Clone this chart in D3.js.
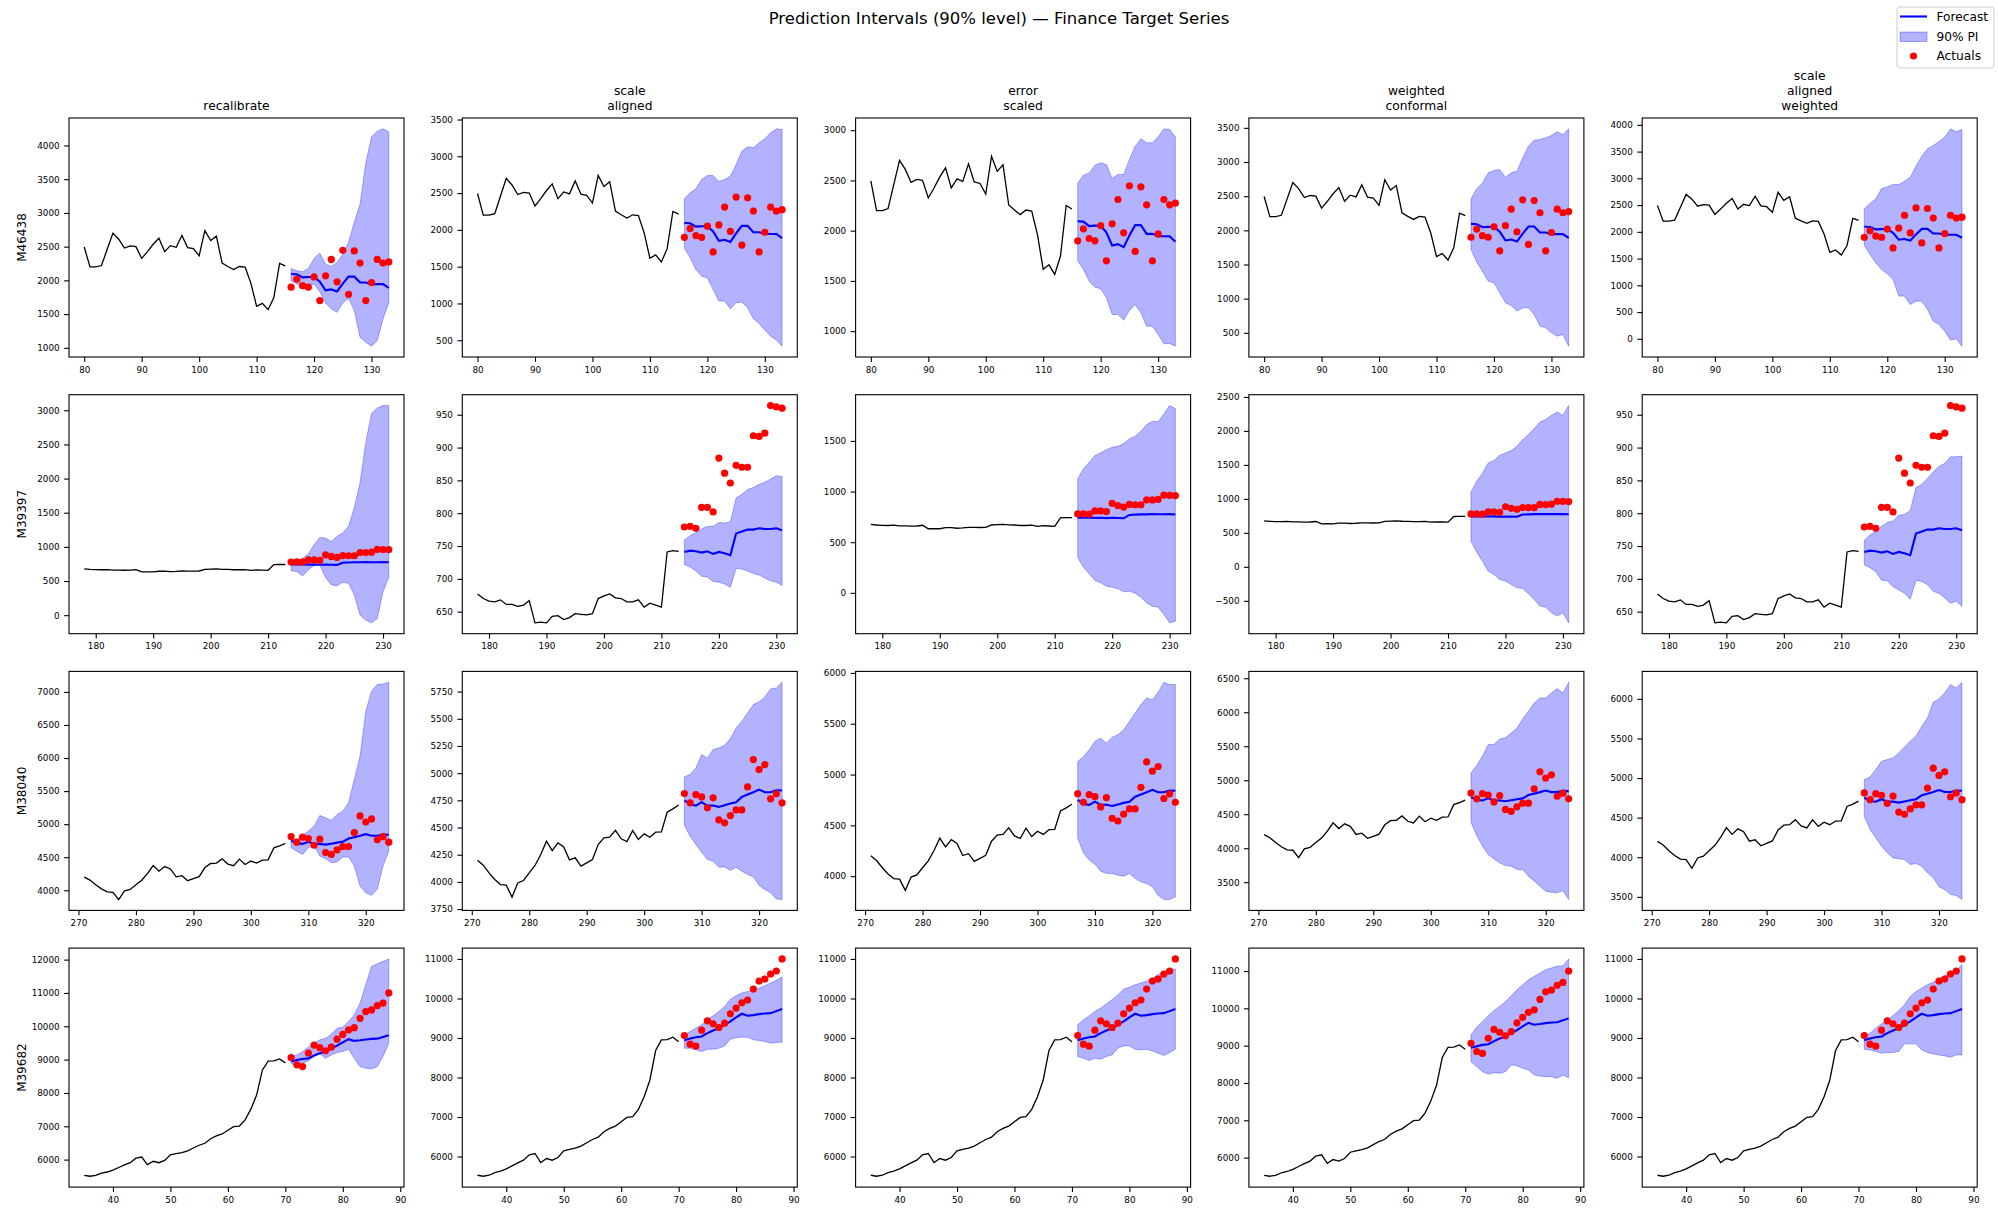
<!DOCTYPE html>
<html lang="en">
<head>
  <meta charset="UTF-8">
  <title>Prediction Intervals (90% level) — Finance Target Series</title>
  <script src="https://d3js.org/d3.v7.min.js"></script>
  <style>
    body { margin: 0; background: #fff; }
    svg { display: block; font-family: 'DejaVu Sans', sans-serif; }
    .tick text { font-size: 8.8px; fill: #000; }
    .tick line { stroke: #000; stroke-width: 1.1px; }
  </style>
</head>
<body>
  <svg id="chart" width="1998" height="1217"></svg>
  <script>
    const seriesIds = ["M46438", "M39397", "M38040", "M39682"];
    const methodTitles = ["recalibrate", "scale\naligned", "error\nscaled", "weighted\nconformal", "scale\naligned\nweighted"];
    const histStart = [80, 178, 271, 35];

    // M46438
    const hist_M46438 = [2495, 2200, 2200, 2220, 2460, 2700, 2610, 2480, 2510, 2500, 2325, 2425, 2535, 2625, 2425, 2515, 2490, 2665, 2485, 2470, 2365, 2740, 2590, 2655, 2255, 2205, 2160, 2205, 2195, 1960, 1615, 1660, 1565, 1745, 2250, 2215];
    const fc_M46438 = [2094, 2090, 2045, 2050, 2050, 1980, 1852, 1866, 1836, 1952, 2055, 2055, 1968, 1968, 1945, 1945, 1945, 1889];
    const act_M46438 = [1899, 2018, 1922, 1899, 2051, 1700, 2068, 2310, 1979, 2446, 1793, 2436, 2257, 1700, 1968, 2310, 2257, 2274];
    const lo_M46438 = [
      [1995, 1946, 1897, 1921, 1946, 1833, 1665, 1576, 1527, 1665, 1734, 1552, 1158, 1084, 1025, 1108, 1429, 1665],
      [1756, 1620, 1462, 1371, 1349, 1190, 1032, 1032, 928, 1009, 1018, 941, 792, 728, 638, 556, 502, 420],
      [1700, 1614, 1497, 1438, 1421, 1332, 1166, 1166, 1109, 1206, 1265, 1182, 1050, 1050, 967, 874, 877, 851],
      [1720, 1534, 1402, 1256, 1232, 1085, 939, 900, 817, 866, 866, 768, 598, 573, 500, 451, 475, 305],
      [1751, 1576, 1421, 1296, 1215, 1109, 798, 798, 642, 704, 704, 548, 330, 268, 143, -25, 0, -137]
    ];
    const hi_M46438 = [
      [2177, 2143, 2128, 2177, 2325, 2404, 2241, 2207, 2266, 2389, 2562, 2867, 3128, 3744, 4128, 4212, 4246, 4202],
      [2422, 2504, 2558, 2685, 2739, 2739, 2658, 2685, 2730, 2889, 3070, 3129, 3115, 3183, 3237, 3319, 3373, 3364],
      [2473, 2552, 2575, 2652, 2675, 2658, 2519, 2559, 2559, 2708, 2841, 2914, 2874, 2874, 2934, 3013, 3007, 2934],
      [2461, 2607, 2695, 2841, 2876, 2890, 2778, 2841, 2866, 3061, 3232, 3320, 3329, 3354, 3388, 3441, 3402, 3485],
      [2430, 2530, 2617, 2804, 2841, 2885, 2885, 2947, 3022, 3227, 3414, 3551, 3614, 3688, 3769, 3925, 3869, 3913]
    ];

    // M39397
    const hist_M39397 = [677, 670, 666, 665, 668, 661, 661, 658, 660, 667, 633, 634, 633, 643, 644, 638, 641, 647, 646, 645, 647, 670, 674, 677, 671, 670, 665, 665, 668, 657, 663, 660, 657, 741, 743, 742];
    const fc_M39397 = [741, 743, 742, 740, 742, 738, 741, 739, 736, 769, 772, 775, 775, 777, 776, 776, 777, 774];
    const act_M39397 = [779, 780, 777, 809, 809, 802, 884, 861, 846, 873, 870, 870, 918, 917, 922, 964, 962, 960];
    const lo_M39397 = [
      [649, 639, 575, 663, 730, 735, 550, 442, 432, 481, 467, 295, 0, -73, -112, -49, 344, 550],
      [722, 718, 712, 704, 703, 696, 695, 692, 687, 716, 715, 712, 708, 706, 701, 697, 695, 690],
      [352, 253, 188, 122, 99, 66, 56, 40, 10, 16, -3, -43, -99, -132, -141, -214, -296, -280],
      [377, 216, 83, -64, -113, -186, -211, -260, -309, -319, -397, -480, -578, -593, -676, -725, -676, -824],
      [721, 717, 711, 698, 697, 688, 683, 678, 669, 698, 696, 691, 681, 678, 671, 663, 666, 658]
    ];
    const hi_M39397 = [
      [796, 796, 835, 894, 1031, 1139, 1130, 1080, 1154, 1203, 1301, 1571, 1940, 2529, 2956, 3034, 3069, 3069],
      [759, 766, 770, 776, 780, 780, 786, 785, 787, 823, 829, 836, 839, 844, 847, 852, 857, 856],
      [1125, 1224, 1289, 1355, 1382, 1414, 1437, 1447, 1474, 1520, 1546, 1595, 1661, 1694, 1688, 1766, 1849, 1819],
      [1103, 1260, 1382, 1529, 1564, 1642, 1676, 1711, 1775, 1873, 1946, 2034, 2132, 2167, 2230, 2279, 2230, 2373],
      [759, 767, 772, 780, 786, 788, 797, 798, 804, 839, 844, 853, 863, 871, 876, 886, 886, 887]
    ];

    // M38040
    const hist_M38040 = [4200, 4154, 4083, 4022, 3976, 3970, 3860, 3991, 4013, 4083, 4151, 4252, 4374, 4289, 4359, 4322, 4203, 4221, 4145, 4175, 4206, 4344, 4405, 4411, 4475, 4396, 4371, 4472, 4390, 4442, 4411, 4457, 4460, 4641, 4672, 4708];
    const fc_M38040 = [4751, 4711, 4702, 4733, 4702, 4702, 4690, 4705, 4721, 4733, 4782, 4803, 4825, 4849, 4825, 4825, 4843, 4840];
    const act_M38040 = [4812, 4727, 4803, 4782, 4681, 4773, 4570, 4543, 4610, 4662, 4662, 4874, 5125, 5033, 5079, 4764, 4810, 4727];
    const lo_M38040 = [
      [4643, 4592, 4543, 4643, 4678, 4517, 4477, 4417, 4427, 4502, 4507, 4366, 4064, 3964, 3923, 4014, 4366, 4593],
      [4521, 4420, 4344, 4273, 4206, 4191, 4135, 4138, 4105, 4135, 4099, 4068, 4047, 3967, 3930, 3900, 3844, 3838],
      [4372, 4230, 4158, 4118, 4049, 4026, 4026, 4010, 4000, 4026, 3977, 3944, 3928, 3895, 3812, 3770, 3770, 3796],
      [4382, 4186, 4029, 3907, 3843, 3784, 3745, 3735, 3686, 3686, 3588, 3515, 3441, 3368, 3353, 3343, 3377, 3245],
      [4518, 4350, 4245, 4140, 4056, 3992, 3980, 3971, 3908, 3921, 3887, 3803, 3740, 3626, 3593, 3529, 3517, 3466]
    ];
    const hi_M38040 = [
      [4779, 4769, 4830, 4895, 4970, 5131, 5096, 5056, 5146, 5197, 5323, 5675, 6027, 6708, 7010, 7111, 7121, 7146],
      [4966, 4987, 5048, 5171, 5140, 5217, 5232, 5257, 5318, 5416, 5477, 5554, 5631, 5655, 5701, 5775, 5784, 5836],
      [5128, 5178, 5243, 5326, 5359, 5309, 5368, 5391, 5441, 5523, 5605, 5688, 5753, 5737, 5809, 5908, 5885, 5885],
      [5108, 5216, 5353, 5525, 5525, 5608, 5623, 5696, 5770, 5902, 6015, 6137, 6211, 6211, 6284, 6348, 6284, 6441],
      [4981, 5015, 5108, 5213, 5234, 5255, 5318, 5394, 5465, 5529, 5655, 5760, 5958, 6000, 6076, 6181, 6139, 6210]
    ];

    // M39682
    const hist_M39682 = [5526, 5501, 5526, 5594, 5628, 5687, 5763, 5839, 5907, 6042, 6076, 5848, 5949, 5907, 5975, 6144, 6178, 6212, 6262, 6347, 6431, 6491, 6626, 6711, 6770, 6880, 6990, 7007, 7193, 7514, 7937, 8682, 8953, 8961, 9020, 8902];
    const fc_M39682 = [8944, 8986, 9020, 9037, 9122, 9190, 9249, 9333, 9418, 9519, 9613, 9562, 9579, 9604, 9621, 9629, 9680, 9731];
    const act_M39682 = [9063, 8843, 8792, 9198, 9435, 9359, 9266, 9376, 9613, 9756, 9892, 9959, 10239, 10442, 10492, 10619, 10695, 11000];
    const lo_M39682 = [
      [8891, 8810, 8891, 8961, 9100, 9170, 9041, 9141, 9212, 9242, 9312, 9041, 8790, 8740, 8720, 8790, 9091, 9492],
      [8741, 8741, 8699, 8657, 8716, 8716, 8741, 8800, 8969, 9012, 9020, 9020, 8953, 8936, 8910, 8868, 8885, 8893],
      [8530, 8487, 8428, 8487, 8462, 8530, 8572, 8741, 8800, 8800, 8716, 8699, 8716, 8673, 8614, 8555, 8631, 8716],
      [8572, 8437, 8303, 8240, 8276, 8258, 8303, 8482, 8464, 8392, 8348, 8213, 8186, 8168, 8168, 8124, 8213, 8142],
      [8716, 8699, 8657, 8614, 8631, 8631, 8657, 8851, 8851, 8851, 8699, 8631, 8597, 8572, 8547, 8513, 8572, 8572]
    ];
    const hi_M39682 = [
      [9091, 9141, 9242, 9372, 9492, 9593, 9643, 9763, 9944, 9974, 10144, 10345, 10696, 11248, 11799, 11880, 11950, 12020],
      [9080, 9164, 9249, 9333, 9460, 9562, 9672, 9799, 9983, 10069, 10137, 10179, 10179, 10264, 10323, 10391, 10459, 10543],
      [9333, 9460, 9562, 9672, 9756, 9865, 9968, 10095, 10239, 10281, 10349, 10391, 10433, 10518, 10602, 10670, 10729, 10746],
      [9289, 9495, 9647, 9799, 9943, 10050, 10185, 10337, 10498, 10633, 10767, 10857, 10946, 11036, 11081, 11125, 11143, 11323],
      [9037, 9122, 9249, 9359, 9460, 9562, 9697, 9841, 10052, 10179, 10264, 10349, 10408, 10492, 10577, 10645, 10712, 10856]
    ];

    const histVals = [hist_M46438, hist_M39397, hist_M38040, hist_M39682];
    const fcVals = [fc_M46438, fc_M39397, fc_M38040, fc_M39682];
    const actVals = [act_M46438, act_M39397, act_M38040, act_M39682];
    const loVals = [lo_M46438, lo_M39397, lo_M38040, lo_M39682];
    const hiVals = [hi_M46438, hi_M39397, hi_M38040, hi_M39682];

    // grid layout (pixels)
    const axLeft = 69, colStep = 393.3, axW = 335;
    const axTop = 118, rowStep = 276.7, axH = 239;

    // matplotlib-like MaxNLocator (nbins 9, steps 1/2/2.5/5/10)
    function mplTicks(lo, hi, nbins) {
      const raw = (hi - lo) / nbins;
      const mag = Math.pow(10, Math.floor(Math.log10(raw)));
      const step = [1, 2, 2.5, 5, 10].map(s => s * mag).find(s => s >= raw - 1e-9);
      const out = [];
      for (let v = Math.ceil(lo / step - 1e-9) * step; v <= hi + 1e-9; v += step) out.push(Math.round(v * 1e6) / 1e6);
      return out;
    }
    function padded(ext) {
      const m = (ext[1] - ext[0]) * 0.05;
      return [ext[0] - m, ext[1] + m];
    }

    const svg = d3.select("#chart");
    const fmt = d3.format("d");

    seriesIds.forEach((sid, r) => {
      const t0 = histStart[r];
      const hist = histVals[r].map((v, i) => ({ t: t0 + i, v }));
      const fcT0 = t0 + histVals[r].length;
      const fc = fcVals[r].map((v, i) => ({ t: fcT0 + i, v }));
      const act = actVals[r].map((v, i) => ({ t: fcT0 + i, v }));

      methodTitles.forEach((title, c) => {
        const band = loVals[r][c].map((lo, i) => ({ t: fcT0 + i, lo, hi: hiVals[r][c][i] }));
        const allY = hist.map(d => d.v).concat(fc.map(d => d.v), act.map(d => d.v), band.map(d => d.lo), band.map(d => d.hi));
        const xDom = padded([t0, fcT0 + fc.length - 1]);
        const yDom = padded(d3.extent(allY));

        const x = d3.scaleLinear().domain(xDom).range([0, axW]);
        const y = d3.scaleLinear().domain(yDom).range([axH, 0]);

        const g = svg.append("g")
          .attr("transform", `translate(${axLeft + c * colStep}, ${axTop + r * rowStep})`);

        g.append("path")
          .datum(band)
          .attr("d", d3.area().x(d => x(d.t)).y0(d => y(d.lo)).y1(d => y(d.hi)))
          .attr("fill", "blue").attr("fill-opacity", 0.3)
          .attr("stroke", "blue").attr("stroke-opacity", 0.3).attr("stroke-width", 1);

        g.append("path")
          .datum(hist)
          .attr("d", d3.line().x(d => x(d.t)).y(d => y(d.v)))
          .attr("fill", "none").attr("stroke", "black").attr("stroke-width", 1.3);

        g.append("path")
          .datum(fc)
          .attr("d", d3.line().x(d => x(d.t)).y(d => y(d.v)))
          .attr("fill", "none").attr("stroke", "blue").attr("stroke-width", 2.1);

        g.selectAll(".act").data(act).enter()
          .append("circle")
          .attr("cx", d => x(d.t)).attr("cy", d => y(d.v)).attr("r", 3.6)
          .attr("fill", "red");

        g.append("rect")
          .attr("width", axW).attr("height", axH)
          .attr("fill", "none").attr("stroke", "black").attr("stroke-width", 1.1);

        const xa = g.append("g").attr("transform", `translate(0, ${axH})`)
          .call(d3.axisBottom(x).tickValues(mplTicks(xDom[0], xDom[1], 9)).tickFormat(fmt).tickSize(4.9).tickPadding(4.5));
        xa.select(".domain").remove();
        xa.selectAll("text").attr("font-family", "DejaVu Sans");

        const ya = g.append("g")
          .call(d3.axisLeft(y).tickValues(mplTicks(yDom[0], yDom[1], 9)).tickFormat(fmt).tickSize(4.9).tickPadding(4.5));
        ya.select(".domain").remove();
        ya.selectAll("text").attr("font-family", "DejaVu Sans");

        // column titles only on top row, stacked lines
        if (r === 0) {
          const lines = title.split("\n");
          const tt = g.append("text")
            .attr("text-anchor", "middle")
            .attr("font-size", "12.3px");
          lines.forEach((ln, i) => {
            tt.append("tspan")
              .attr("x", axW / 2)
              .attr("y", -8.5 - (lines.length - 1 - i) * 14.8)
              .text(ln);
          });
        }

        if (c === 0) {
          g.append("text")
            .attr("transform", `translate(-43, ${axH / 2}) rotate(-90)`)
            .attr("text-anchor", "middle")
            .attr("font-size", "12px")
            .text(sid);
        }
      });
    });

    svg.append("text")
      .attr("x", 999).attr("y", 24)
      .attr("text-anchor", "middle")
      .attr("font-size", "16.5px")
      .text("Prediction Intervals (90% level) — Finance Target Series");

    // legend
    const lg = svg.append("g").attr("transform", "translate(1897, 7)");
    lg.append("rect")
      .attr("width", 97).attr("height", 61).attr("rx", 3)
      .attr("fill", "white").attr("fill-opacity", 0.8)
      .attr("stroke", "#cccccc").attr("stroke-width", 1);
    lg.append("line")
      .attr("x1", 3).attr("x2", 30).attr("y1", 9.5).attr("y2", 9.5)
      .attr("stroke", "blue").attr("stroke-width", 2.1);
    lg.append("rect")
      .attr("x", 3).attr("y", 25).attr("width", 27).attr("height", 9.5)
      .attr("fill", "blue").attr("fill-opacity", 0.3)
      .attr("stroke", "blue").attr("stroke-opacity", 0.3);
    lg.append("circle")
      .attr("cx", 16.5).attr("cy", 49).attr("r", 3.6).attr("fill", "red");
    ["Forecast", "90% PI", "Actuals"].forEach((txt, i) => {
      lg.append("text")
        .attr("x", 39.5).attr("y", 14 + i * 19.5)
        .attr("font-size", "12.2px")
        .text(txt);
    });
  </script>
</body>
</html>
